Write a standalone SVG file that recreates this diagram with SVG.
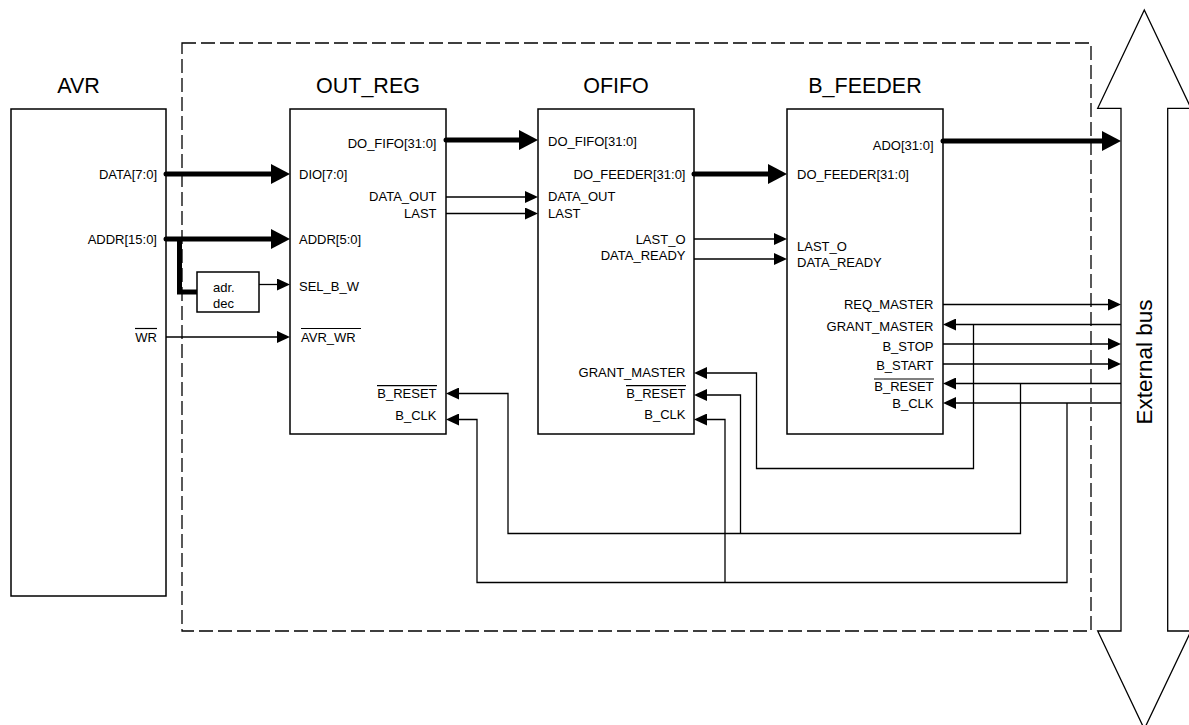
<svg xmlns="http://www.w3.org/2000/svg" width="1189" height="725" viewBox="0 0 1189 725">
<style>
.box{fill:#fff;stroke:#000;stroke-width:1.5}
.t{font-family:"Liberation Sans",Arial,sans-serif;font-size:13px;fill:#000}
.e{text-anchor:end}
.ttl{font-family:"Liberation Sans",Arial,sans-serif;font-size:21.5px;fill:#000;text-anchor:middle}
.w{fill:none;stroke:#000;stroke-width:1.3}
.bus{fill:none;stroke:#000;stroke-width:5;stroke-linecap:round}
.ov{stroke:#000;stroke-width:1.2}
.dash{fill:none;stroke:#000;stroke-width:1.3;stroke-dasharray:14 5}
</style>
<defs>
<marker id="a" markerUnits="userSpaceOnUse" markerWidth="14" markerHeight="12" refX="10" refY="6" orient="auto"><path d="M0,0 L13,6 L0,12 z" fill="#000"/></marker>
<marker id="A" markerUnits="userSpaceOnUse" markerWidth="20" markerHeight="20" refX="7" refY="10" orient="auto"><path d="M0,0 L19,10 L0,20 z" fill="#000"/></marker>
</defs>
<rect width="1189" height="725" fill="#fff"/>

<g id="boundary"><rect class="dash" x="182" y="43" width="909" height="588"/></g>

<g id="external_bus">
<polygon points="1144.3,10 1191,108.3 1167.7,108.3 1167.7,631 1191,631 1144.3,729 1097.7,631 1121,631 1121,108.3 1097.7,108.3" fill="#fff" stroke="#000" stroke-width="1.3"/>
<text class="t" style="font-size:22.5px" text-anchor="middle" transform="translate(1151.5,362) rotate(-90)">External bus</text>
</g>

<g id="avr">
<text class="ttl" x="78.5" y="93">AVR</text>
<rect class="box" x="11" y="109" width="155" height="487"/>
<text class="t e" x="157" y="179">DATA[7:0]</text>
<text class="t e" x="157" y="244">ADDR[15:0]</text>
<text class="t e" x="157" y="342">WR</text>
<line class="ov" x1="135" y1="328.5" x2="157" y2="328.5"/>
</g>

<g id="adr_dec">
<rect class="box" x="197" y="272" width="62" height="40"/>
<text class="t" x="213" y="292">adr.</text>
<text class="t" x="213" y="308">dec</text>
</g>

<g id="out_reg">
<text class="ttl" x="368" y="93">OUT_REG</text>
<rect class="box" x="290" y="109" width="156" height="325"/>
<text class="t" x="299" y="179">DIO[7:0]</text>
<text class="t" x="299" y="244">ADDR[5:0]</text>
<text class="t" x="299" y="291">SEL_B_W</text>
<text class="t" x="301" y="342">AVR_WR</text>
<line class="ov" x1="301" y1="328.5" x2="361" y2="328.5"/>
<text class="t e" x="436.5" y="148">DO_FIFO[31:0]</text>
<text class="t e" x="436.5" y="201">DATA_OUT</text>
<text class="t e" x="436.5" y="218">LAST</text>
<text class="t e" x="436.5" y="398">B_RESET</text>
<line class="ov" x1="377" y1="385.7" x2="437" y2="385.7"/>
<text class="t e" x="436.5" y="420">B_CLK</text>
</g>

<g id="ofifo">
<text class="ttl" x="616" y="93">OFIFO</text>
<rect class="box" x="538" y="109" width="156" height="325"/>
<text class="t" x="548" y="146">DO_FIFO[31:0]</text>
<text class="t" x="548" y="201">DATA_OUT</text>
<text class="t" x="548" y="218">LAST</text>
<text class="t e" x="685.5" y="179">DO_FEEDER[31:0]</text>
<text class="t e" x="685.5" y="244">LAST_O</text>
<text class="t e" x="685.5" y="260">DATA_READY</text>
<text class="t e" x="685.5" y="377">GRANT_MASTER</text>
<text class="t e" x="685.5" y="398">B_RESET</text>
<line class="ov" x1="626" y1="385.7" x2="686" y2="385.7"/>
<text class="t e" x="685.5" y="419">B_CLK</text>
</g>

<g id="b_feeder">
<text class="ttl" x="865" y="93">B_FEEDER</text>
<rect class="box" x="787" y="109" width="156" height="325"/>
<text class="t e" x="933.5" y="150">ADO[31:0]</text>
<text class="t" x="797" y="179">DO_FEEDER[31:0]</text>
<text class="t" x="797" y="251">LAST_O</text>
<text class="t" x="797" y="267">DATA_READY</text>
<text class="t e" x="933.5" y="309">REQ_MASTER</text>
<text class="t e" x="933.5" y="330.5">GRANT_MASTER</text>
<text class="t e" x="933.5" y="350.5">B_STOP</text>
<text class="t e" x="933.5" y="369.5">B_START</text>
<text class="t e" x="933.5" y="391">B_RESET</text>
<line class="ov" x1="874" y1="379" x2="934" y2="379"/>
<text class="t e" x="933.5" y="408">B_CLK</text>
</g>

<g id="connectors">
<path class="bus" d="M166,174 H278" marker-end="url(#A)"/>
<path class="bus" d="M166,239 H278" marker-end="url(#A)"/>
<path d="M179.5,239 V292 H197" fill="none" stroke="#000" stroke-width="5"/>
<path class="bus" d="M446,140 H526" marker-end="url(#A)"/>
<path class="bus" d="M694,174 H775" marker-end="url(#A)"/>
<path class="bus" d="M943,141 H1109" marker-end="url(#A)"/>
<path class="w" d="M259,284.5 H287" marker-end="url(#a)"/>
<path class="w" d="M166,337 H287" marker-end="url(#a)"/>
<path class="w" d="M446,197 H535" marker-end="url(#a)"/>
<path class="w" d="M446,213.5 H535" marker-end="url(#a)"/>
<path class="w" d="M694,239 H784" marker-end="url(#a)"/>
<path class="w" d="M694,259 H784" marker-end="url(#a)"/>
<path class="w" d="M943,304.5 H1118" marker-end="url(#a)"/>
<path class="w" d="M1121,324.5 H946" marker-end="url(#a)"/>
<path class="w" d="M943,344 H1118" marker-end="url(#a)"/>
<path class="w" d="M943,364 H1118" marker-end="url(#a)"/>
<path class="w" d="M1121,383.5 H946" marker-end="url(#a)"/>
<path class="w" d="M1121,403 H946" marker-end="url(#a)"/>
<path class="w" d="M973.5,324.5 V468.5 H756.5 V373 H697" marker-end="url(#a)"/>
<path class="w" d="M1020.5,383.5 V533.5 H508 V393.5 H449" marker-end="url(#a)"/>
<path class="w" d="M740.5,533.5 V395 H697" marker-end="url(#a)"/>
<path class="w" d="M1067,403 V582.5 H477 V419.5 H449" marker-end="url(#a)"/>
<path class="w" d="M725,582.5 V419.5 H697" marker-end="url(#a)"/>
</g>
</svg>
